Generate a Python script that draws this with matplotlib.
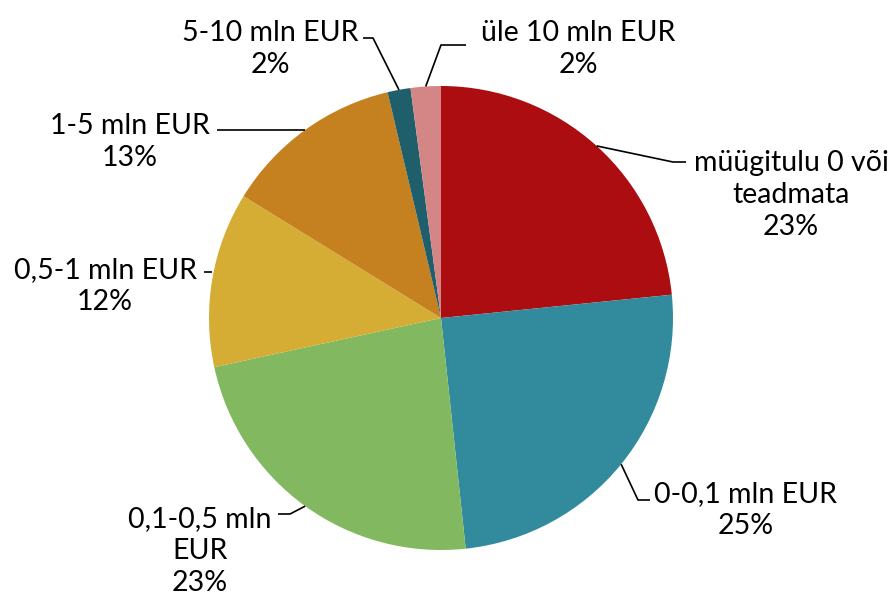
"""Pie chart: companies by turnover size class."""

import numpy as np
import matplotlib.pyplot as plt

plt.rcParams["font.family"] = ["Lato", "DejaVu Sans"]

categories = [
    "müügitulu 0 või\nteadmata",
    "0-0,1 mln EUR",
    "0,1-0,5 mln\nEUR",
    "0,5-1 mln EUR",
    "1-5 mln EUR",
    "5-10 mln EUR",
    "üle 10 mln EUR",
]
shares = [23.4, 24.9, 23.3, 12.2, 12.5, 1.6, 2.1]
percent_labels = ["23%", "25%", "23%", "12%", "13%", "2%", "2%"]
colors = ["#AC0D10", "#328B9C", "#82B860", "#D5AD34", "#C5801F", "#1F5F6C", "#D48585"]

# label layout in pixel coords (top-left origin): text centre, elbow x, elbow y, line end x
layout = [
    (791, 195, 673, 162, 686),
    (746, 510, 638, 500, 650),
    (200, 551, 290, 514, 278),
    (105, 286, None, 272, 204),
    (130, 142, None, 130, 217),
    (270, 49, 373, 38, 363),
    (578, 49, 441, 45, 466),
]

W, H = 896, 600
cx, cy, radius = 441, H - 318, 232

fig = plt.figure(figsize=(8.96, 6), dpi=100)
ax = fig.add_axes([0, 0, 1, 1])

wedges, _ = ax.pie(
    shares,
    colors=colors,
    startangle=90,
    counterclock=False,
    center=(cx, cy),
    radius=radius,
    frame=True,
)
ax.set_xlim(0, W)
ax.set_ylim(0, H)
ax.set_aspect("equal")
ax.axis("off")

for wedge, name, pct, (tx, ty, ex, ey, lx) in zip(wedges, categories, percent_labels, layout):
    mid = np.deg2rad((wedge.theta1 + wedge.theta2) / 2)
    ax_x = cx + radius * np.cos(mid)
    ax_y = cy + radius * np.sin(mid)
    if ex is None:
        xs = [ax_x, lx]
        ys = [H - ey, H - ey]
    else:
        xs = [ax_x, ex, lx]
        ys = [ax_y, H - ey, H - ey]
    ax.plot(xs, ys, color="black", lw=1.2, solid_capstyle="butt")
    ax.text(tx, H - ty, f"{name}\n{pct}", ha="center", va="center",
            multialignment="center", fontsize=20.5, linespacing=1.3)

fig.savefig("out.png", dpi=100)
